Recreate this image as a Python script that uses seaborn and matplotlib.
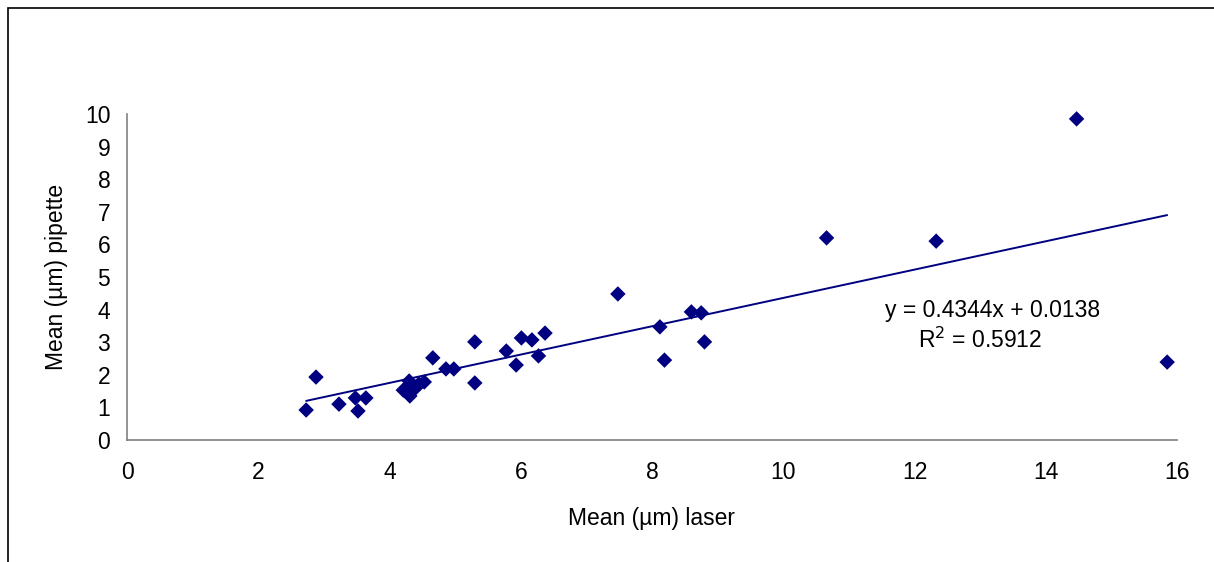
import numpy as np
import pandas as pd
import matplotlib.pyplot as plt
from matplotlib.patches import Rectangle
import seaborn as sns

# values
laser = [2.73, 2.88, 3.23, 3.48, 3.52, 3.64, 4.21, 4.27, 4.30, 4.31, 4.34, 4.40,
         4.45, 4.53, 4.66, 4.86, 4.98, 5.30, 5.30, 5.78, 5.93, 6.01, 6.17, 6.27,
         6.37, 7.48, 8.12, 8.19, 8.60, 8.75, 8.80, 10.66, 12.33, 14.47, 15.85]
pipette = [0.92, 1.93, 1.10, 1.29, 0.89, 1.29, 1.53, 1.62, 1.81, 1.35, 1.66, 1.60,
           1.72, 1.78, 2.52, 2.18, 2.18, 3.01, 1.75, 2.73, 2.30, 3.13, 3.07, 2.58,
           3.28, 4.48, 3.47, 2.45, 3.93, 3.90, 3.01, 6.20, 6.10, 9.85, 2.39]
slope = 0.4344
intercept = 0.0138
r2 = 0.5912

df = pd.DataFrame({'laser': laser, 'pipette': pipette})
x_fit = np.array([min(laser), max(laser)])
fit = pd.DataFrame({'laser': x_fit, 'pipette': slope * x_fit + intercept})

sns.set_style('white')
plt.rcParams['font.family'] = ['Liberation Sans', 'DejaVu Sans']
plt.rcParams['text.color'] = 'black'
plt.rcParams['axes.labelcolor'] = 'black'

fs = 16.5

fig = plt.figure(figsize=(12.14, 5.62), dpi=100)
ax = fig.add_axes([127 / 1214, 1 - 440 / 562, (1177 - 127) / 1214, (440 - 114) / 562])

# outer chart border (cut off at right/bottom like the original)
fig.patches.append(Rectangle((8 / 1214, -0.1), 1.2, (562 - 8) / 562 + 0.1,
                             transform=fig.transFigure, fill=False,
                             edgecolor='black', linewidth=1.2, zorder=0))

sns.lineplot(data=fit, x='laser', y='pipette', color='#000080', linewidth=1.4, ax=ax)
sns.scatterplot(data=df, x='laser', y='pipette', marker='D', color='#000080',
                edgecolor='none', s=62, ax=ax, zorder=3, clip_on=False)

ax.set_xlim(0, 16)
ax.set_ylim(0, 10)
ax.set_xticks(range(0, 17, 2))
ax.set_yticks(range(0, 11))
for side in ['top', 'right']:
    ax.spines[side].set_visible(False)
for side in ['left', 'bottom']:
    ax.spines[side].set_color('#808080')
    ax.spines[side].set_linewidth(1.2)
ax.tick_params(axis='both', direction='out', length=6, width=1, color='#808080',
               labelsize=fs, labelcolor='black', pad=6)
ax.tick_params(axis='x', pad=9)

ax.set_xlabel('Mean (µm) laser', fontsize=fs, labelpad=17)
ax.set_ylabel('Mean (µm) pipette', fontsize=fs, labelpad=12)

ax.text(13.19, 3.96, f'y = {slope}x + {intercept}', ha='center', va='center', fontsize=fs)
ax.text(13.0, 3.07, f'R$^2$ = {r2}', ha='center', va='center', fontsize=fs)

fig.savefig('out.png', dpi=100)
